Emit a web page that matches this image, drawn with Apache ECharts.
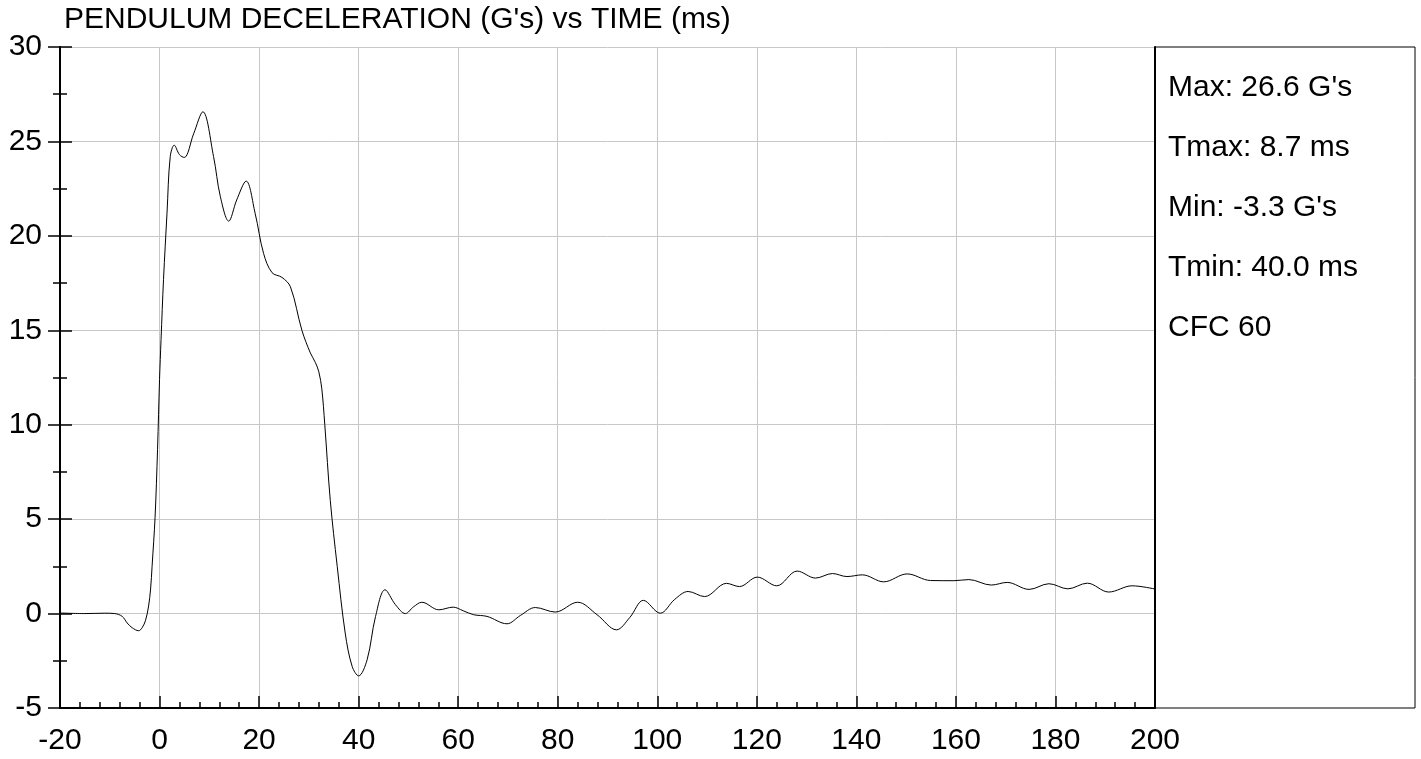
<!DOCTYPE html>
<html>
<head>
<meta charset="utf-8">
<script src="https://cdn.jsdelivr.net/npm/echarts@6/dist/echarts.min.js"></script>
<style>html,body{margin:0;padding:0;background:#fff;}#c{width:1421px;height:759px;}</style>
</head>
<body>
<div id="c"></div>
<script>
const titleText = "PENDULUM DECELERATION (G's) vs TIME (ms)";
const statLines = ["Max: 26.6 G's", "Tmax: 8.7 ms", "Min: -3.3 G's", "Tmin: 40.0 ms", "CFC 60"];
const xTicks = { min: -20, max: 200, step: 20 };
const yTicks = { min: -5, max: 30, step: 5 };

const timeMs = [
  -20, -15, -11, -9, -7.5, -6.5, -5.5, -4.2, -3.5, -2.8, -2.2, -1.8, -1.5, -0.9, -0.4, 0, 0.3, 0.8, 1.5, 2.15, 2.95, 4.0, 4.96,
  6.84, 8.7, 10.85, 12.2, 13.9, 15.5, 17.4, 19.2, 20.9, 22.6, 24.6, 26.3, 28.6, 30.3, 31.3, 32.0, 32.6, 33.2, 34.3, 35.7,
  37.3, 38.7, 40.0, 41.7, 43.4, 45.3, 47.4, 49.4, 51, 52.7, 56.1, 59, 61, 63.1, 65.8, 69.8, 72.5, 75.5, 79.5, 84,
  87.9, 91.8, 94.5, 97.2, 100.6, 103.5, 106.2, 109.5, 113.9, 116.5, 120.1, 124, 128.1, 131.8, 135.2, 138.1, 141.2,
  145.5, 150.2, 154.9, 159.6, 162.6, 167.1, 170.3, 174.7, 178.7, 182.5, 186.4, 190.7, 195.4, 200
];
const accelG = [
  0.03, 0.0, 0.02, 0.0, -0.15, -0.5, -0.75, -0.91, -0.75, -0.35, 0.4, 1.3, 2.5, 5.1, 8.7, 12.4, 14.5, 17.7, 21.2, 24.2, 24.8, 24.3, 24.15,
  25.4, 26.57, 24.2, 22.1, 20.78, 21.9, 22.9, 21.2, 19.07, 18.05, 17.8, 17.3, 15.0, 13.8, 13.3, 12.8, 11.9, 10.0, 6.0, 2.5,
  -1.03, -2.8, -3.3, -2.45, -0.15, 1.26, 0.47, 0.0, 0.35, 0.6, 0.2, 0.34, 0.15, -0.06, -0.15, -0.54, -0.1, 0.32, 0.08, 0.6,
  -0.06, -0.86, -0.2, 0.7, 0.02, 0.75, 1.17, 0.9, 1.6, 1.43, 1.93, 1.47, 2.25, 1.88, 2.12, 1.96, 2.05,
  1.68, 2.1, 1.75, 1.74, 1.8, 1.51, 1.65, 1.28, 1.58, 1.31, 1.61, 1.14, 1.47, 1.3
];

const FONT = "'Liberation Sans', Arial, sans-serif";
const chart = echarts.init(document.getElementById('c'), null, { renderer: 'canvas' });
const seriesData = timeMs.map((t, i) => [t, accelG[i]]);

const statGraphics = statLines.map((s, i) => ({
  type: 'text', left: 1168, top: 73 + i * 60,
  style: { text: s, font: '30px ' + FONT, fill: '#000' }
}));

const yBase = {
  type: 'value', min: yTicks.min, max: yTicks.max, interval: yTicks.step,
  axisLine: { show: true, onZero: false, lineStyle: { color: '#000', width: 2 } },
};

chart.setOption({
  animation: false,
  backgroundColor: '#fff',
  grid: { left: 60, right: 266, top: 47, bottom: 51, containLabel: false },
  xAxis: {
    type: 'value', min: xTicks.min, max: xTicks.max, interval: xTicks.step,
    axisLine: { show: true, onZero: false, lineStyle: { color: '#000', width: 2 } },
    axisTick: { show: true, inside: true, length: 12, lineStyle: { color: '#000', width: 1.5 } },
    minorTick: { show: true, splitNumber: 5, length: 6, lineStyle: { color: '#000', width: 1.5 } },
    axisLabel: { fontSize: 30, color: '#000', margin: 18, fontFamily: FONT, showMinLabel: true, showMaxLabel: true },
    splitLine: { show: true, lineStyle: { color: '#c8c8c8', width: 1 } }
  },
  yAxis: [
    Object.assign({}, yBase, {
      position: 'left',
      axisTick: { show: true, inside: false, length: 12, lineStyle: { color: '#000', width: 1.5 } },
      minorTick: { show: true, splitNumber: 2, length: 7, lineStyle: { color: '#000', width: 1.5 } },
      axisLabel: { fontSize: 30, color: '#000', margin: 18, fontFamily: FONT },
      splitLine: { show: true, lineStyle: { color: '#c8c8c8', width: 1 } }
    }),
    Object.assign({}, yBase, {
      position: 'left', offset: 0,
      axisTick: { show: true, inside: true, length: 12, lineStyle: { color: '#000', width: 1.5 } },
      minorTick: { show: true, splitNumber: 2, length: 7, lineStyle: { color: '#000', width: 1.5 } },
      axisLabel: { show: false },
      splitLine: { show: false }
    }),
    Object.assign({}, yBase, {
      position: 'right', offset: 0,
      axisTick: { show: false }, axisLabel: { show: false }, splitLine: { show: false }
    })
  ],
  graphic: [
    { type: 'text', left: 64, top: 5, style: { text: titleText, font: '30px ' + FONT, fill: '#000' } },
    { type: 'rect', shape: { x: 1155, y: 47, width: 260, height: 661 }, style: { fill: 'none', stroke: '#000', lineWidth: 1 }, z: 10 }
  ].concat(statGraphics),
  series: [{
    type: 'line', xAxisIndex: 0, yAxisIndex: 0, data: seriesData,
    showSymbol: false, symbol: 'none', smooth: 0.35,
    lineStyle: { color: '#000', width: 1 }, z: 5
  }]
});
</script>
</body>
</html>
